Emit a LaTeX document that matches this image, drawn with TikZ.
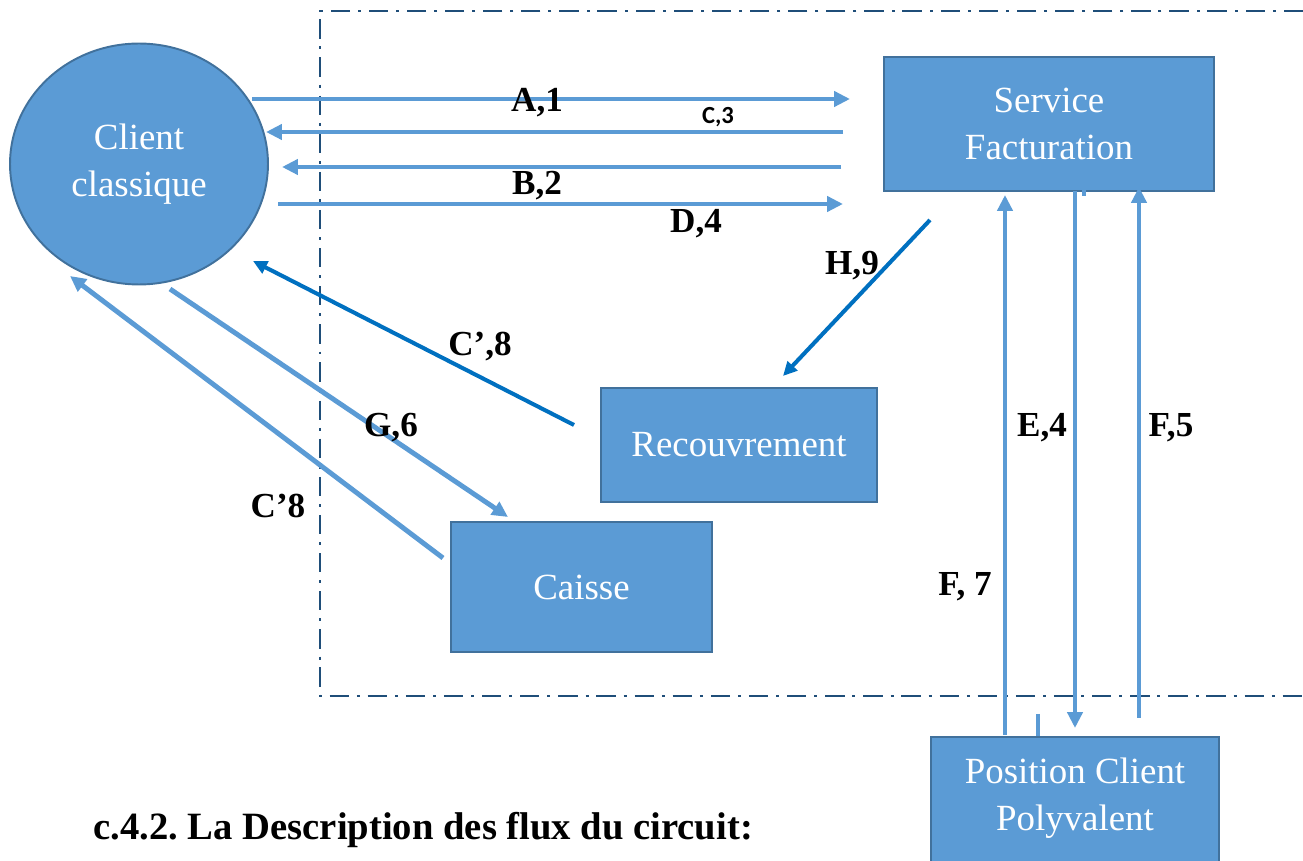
\documentclass[tikz,border=0pt]{standalone}
\usepackage{fontspec}
\setmainfont{Liberation Serif}
\newfontfamily\labelsans{Carlito}
\usepackage{xcolor}
\usetikzlibrary{positioning,arrows.meta,shapes.geometric}
\frenchspacing

\definecolor{boxfill}{HTML}{5B9BD5}
\definecolor{boxline}{HTML}{41719C}
\definecolor{lightflow}{HTML}{5B9BD5}
\definecolor{darkflow}{HTML}{0070C0}
\definecolor{framecol}{HTML}{1F4E79}

\tikzset{
  box/.style={draw=boxline, line width=1.1pt, fill=boxfill, text=white, align=center,
    font=\fontsize{21}{26.5}\selectfont},
  lightarrow/.style={draw=lightflow, line width=2.8pt, -{Triangle[length=9pt,width=8.5pt]}},
  darkarrow/.style={draw=darkflow, line width=2.3pt, -{Triangle[length=8pt,width=7.5pt]}},
  flowlab/.style={font=\fontsize{20}{24}\selectfont\bfseries},
  framedash/.style={draw=framecol, line width=1.2pt, dash pattern=on 11pt off 4.5pt on 1.7pt off 4.5pt}
}

\begin{document}
\begin{tikzpicture}[x=0.02cm, y=-0.02cm]
  \useasboundingbox (0,0) rectangle (1303,861);

  % Frame of the organisation
  \draw[framedash] (1303,11) -- (320,11) -- (320,696) -- (1303,696);

  % Actors and services
  \node[box, ellipse, inner sep=0pt, minimum width=5.16cm, minimum height=4.82cm] (cc) at (139,164) {Client\\classique};
  \node[box, minimum width=6.6cm, minimum height=2.68cm] (sf) at (1049,124) {Service\\Facturation};
  \node[box, minimum width=5.52cm, minimum height=2.28cm] (rec) at (739,445) {Recouvrement};
  \node[box, minimum width=5.22cm, minimum height=2.6cm] (cai) at (581.5,587) {Caisse};
  \node[box, anchor=north, inner ysep=12pt, minimum width=5.76cm, text depth=1.2cm] (pcp) at (1075,736) {Position Client\\Polyvalent};

  % End points of the flows
  \coordinate (a1s) at (252,99);  \coordinate (a1e) at (850,99);
  \coordinate (c3s) at (843,132); \coordinate (c3e) at (266,132);
  \coordinate (b2s) at (841,167); \coordinate (b2e) at (282,167);
  \coordinate (d4s) at (278,204); \coordinate (d4e) at (843,204);
  \coordinate (h9s) at (930,220); \coordinate (h9e) at (783,376);
  \coordinate (c8s) at (574,425); \coordinate (c8e) at (253,261);
  \coordinate (g6s) at (170,289); \coordinate (g6e) at (508,517);
  \coordinate (k8s) at (443,558); \coordinate (k8e) at (70,276);
  \coordinate (f7s) at (1005,735); \coordinate (f7e) at (1005,195);
  \coordinate (e4s) at (1075,191); \coordinate (e4e) at (1075,728);
  \coordinate (f5s) at (1139,718); \coordinate (f5e) at (1139,187);

  % Flows between client and billing
  \draw[lightarrow] (a1s) -- (a1e);
  \draw[lightarrow] (c3s) -- (c3e);
  \draw[lightarrow] (b2s) -- (b2e);
  \draw[lightarrow] (d4s) -- (d4e);

  % Flows towards recovery and cash desk
  \draw[darkarrow] (h9s) -- (h9e);
  \draw[darkarrow] (c8s) -- (c8e);
  \draw[lightarrow] (g6s) -- (g6e);
  \draw[lightarrow] (k8s) -- (k8e);

  % Flows with the client position
  \draw[lightarrow] (f7s) -- (f7e);
  \draw[lightarrow] (e4s) -- (e4e);
  \draw[lightarrow] (f5s) -- (f5e);
  \draw[draw=lightflow, line width=2.4pt] (1038,714) -- (1038,736);
  \draw[draw=lightflow, line width=2.4pt] (1084,190) -- (1084,196);

  % Labels
  \node[flowlab] (la1) at (537,103) {A,1};
  \node[font=\labelsans\fontsize{14}{16}\selectfont\bfseries] (lc3) at (718,117) {C,3};
  \node[flowlab] (lb2) at (537,186) {B,2};
  \node[flowlab] (ld4) at (696,224) {D,4};
  \node[flowlab] (lh9) at (852,266) {H,9};
  \node[flowlab] (lc8) at (480,347) {C’,8};
  \node[flowlab] (lg6) at (391,428) {G,6};
  \node[flowlab] (lk8) at (278,506) {C’8};
  \node[flowlab] (le4) at (1042,428) {E,4};
  \node[flowlab] (lf5) at (1171,428) {F,5};
  \node[flowlab] (lf7) at (965,587) {F, 7};

  % Caption
  \node[font=\fontsize{22}{26}\selectfont\bfseries, anchor=west, inner sep=0pt] (cap) at (93,830) {c.4.2. La Description des flux du circuit:};

\end{tikzpicture}
\end{document}
